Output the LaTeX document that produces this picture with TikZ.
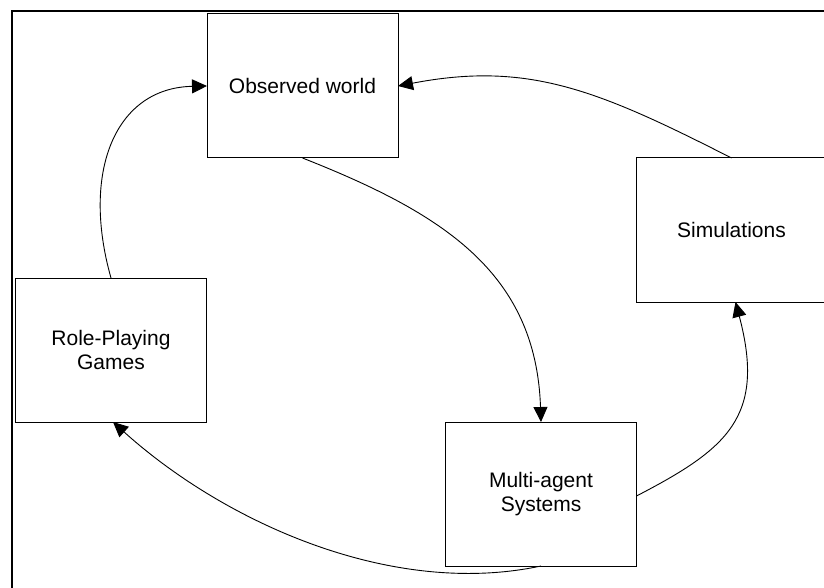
\documentclass[tikz,border=0pt]{standalone}
\usepackage{fontspec}
\setmainfont{Liberation Sans}
\usetikzlibrary{arrows.meta}
\begin{document}
\begin{tikzpicture}[x=1pt,y=-1pt,
  box/.style={draw=black, line width=1pt, fill=white, minimum width=191pt, minimum height=144pt,
    inner sep=0pt, outer sep=0pt, align=center, font=\fontsize{21}{24}\selectfont},
  conn/.style={draw=black, line width=0.9pt, -{Triangle[length=15pt 0 0,width=14pt 0 0]}}]
\useasboundingbox (0,0) rectangle (824,588);
\clip (0,0) rectangle (824,588);
\draw[line width=2pt] (12,11) rectangle (850,620);
\node[box] (ow)  at (302.5,86)  {Observed world};
\node[box] (sim) at (731.5,230) {Simulations};
\node[box] (rpg) at (111,350)   {Role-Playing\\Games};
\node[box] (mas) at (541,494)   {Multi-agent\\Systems};
\draw[conn] (ow.south) .. controls (442,213) and (536,272) .. (mas.north);
\draw[conn] (sim.north) .. controls (598,90) and (528,61) .. (ow.east);
\draw[conn] (rpg.north) .. controls (81,172) and (115,88) .. (ow.west);
\draw[conn] ([yshift=-2pt]mas.east) .. controls (727,449) and (766,417) .. ([xshift=4pt]sim.south);
\draw[conn] (mas.south) .. controls (391,598) and (224,522) .. ([xshift=2pt]rpg.south);
\end{tikzpicture}
\end{document}
